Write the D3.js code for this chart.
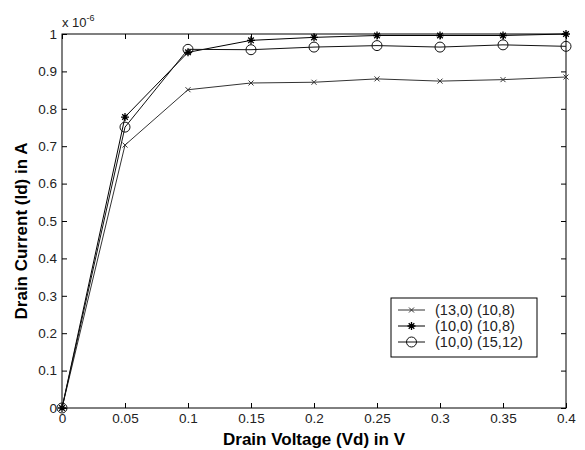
<!DOCTYPE html>
<html>
<head>
<meta charset="utf-8">
<script src="https://cdn.jsdelivr.net/npm/d3@7"></script>
<style>
  body { margin: 0; background: #fff; }
  text { font-family: "Liberation Sans", Arial, sans-serif; }
</style>
</head>
<body>
<div id="chart"></div>
<script>
// drain voltage (V)
var vd = [0, 0.05, 0.1, 0.15, 0.2, 0.25, 0.3, 0.35, 0.4];
// drain current, in units of 1e-6 A
var id13_0_10_8 = [0, 0.703, 0.851, 0.869, 0.871, 0.880, 0.874, 0.878, 0.885];
var id10_0_10_8 = [0, 0.778, 0.951, 0.983, 0.991, 0.996, 0.996, 0.996, 1.0];
var id10_0_15_12 = [0, 0.751, 0.959, 0.958, 0.965, 0.969, 0.965, 0.971, 0.967];
var seriesNames = ["(13,0) (10,8)", "(10,0) (10,8)", "(10,0) (15,12)"];
var xTicks = [0, 0.05, 0.1, 0.15, 0.2, 0.25, 0.3, 0.35, 0.4];
var yTicks = [0, 0.1, 0.2, 0.3, 0.4, 0.5, 0.6, 0.7, 0.8, 0.9, 1];

var width = 585, height = 450;
var margin = {top: 34, right: 19, bottom: 42, left: 62};
var w = width - margin.left - margin.right,
    h = height - margin.top - margin.bottom;

var svg = d3.select("#chart").append("svg")
  .attr("width", width)
  .attr("height", height);

var graph = svg.append("g")
  .attr("transform", "translate(" + margin.left + "," + margin.top + ")");

var x = d3.scaleLinear().domain([0, 0.4]).range([0, w]);
var y = d3.scaleLinear().domain([0, 1]).range([h, 0]);

// box
graph.append("rect")
  .attr("width", w).attr("height", h)
  .attr("fill", "none").attr("stroke", "#000").attr("stroke-width", 1);

// axes with inward ticks
var fmt = function(d) { return String(d); };
graph.append("g")
  .attr("transform", "translate(0," + h + ")")
  .call(d3.axisBottom(x).tickValues(xTicks).tickFormat(fmt).tickSizeInner(-5).tickSizeOuter(0).tickPadding(5));
graph.append("g")
  .call(d3.axisLeft(y).tickValues(yTicks).tickFormat(fmt).tickSizeInner(-5).tickSizeOuter(0).tickPadding(5));
graph.append("g")
  .call(d3.axisTop(x).tickValues(xTicks).tickFormat("").tickSizeInner(-5).tickSizeOuter(0));
graph.append("g")
  .attr("transform", "translate(" + w + ",0)")
  .call(d3.axisRight(y).tickValues(yTicks).tickFormat("").tickSizeInner(-5).tickSizeOuter(0));

graph.selectAll(".domain").remove();
graph.selectAll(".tick line").attr("stroke", "#000");
graph.selectAll(".tick text").attr("font-size", 13.5).attr("fill", "#222");

// exponent label
var expo = graph.append("text")
  .attr("x", 0).attr("y", -7)
  .attr("font-size", 13).attr("fill", "#222");
expo.append("tspan").text("x 10");
expo.append("tspan").attr("dy", -6).attr("font-size", 9).text("-6");

// axis titles
svg.append("text")
  .attr("x", margin.left + w / 2).attr("y", 445)
  .attr("text-anchor", "middle")
  .attr("font-size", 17).attr("font-weight", "bold")
  .text("Drain Voltage (Vd) in V");
svg.append("text")
  .attr("transform", "translate(27," + (margin.top + h / 2 + 10) + ") rotate(-90)")
  .attr("text-anchor", "middle")
  .attr("font-size", 17).attr("font-weight", "bold")
  .text("Drain Current (Id) in A");

var line = d3.line()
  .x(function(d, i) { return x(vd[i]); })
  .y(function(d) { return y(d); });

var series = [
  {name: seriesNames[0], values: id13_0_10_8, marker: "x", color: "#333"},
  {name: seriesNames[1], values: id10_0_10_8, marker: "star", color: "#000"},
  {name: seriesNames[2], values: id10_0_15_12, marker: "circle", color: "#111"}
];

function drawMarker(g, type, cx, cy, color) {
  if (type === "x") {
    var s = 2.5;
    g.append("path")
      .attr("d", "M" + (cx - s) + "," + (cy - s) + "L" + (cx + s) + "," + (cy + s) +
                 "M" + (cx - s) + "," + (cy + s) + "L" + (cx + s) + "," + (cy - s))
      .attr("stroke", color).attr("stroke-width", 1).attr("fill", "none");
  } else if (type === "star") {
    var r = 4, d = 2.8;
    g.append("path")
      .attr("d", "M" + (cx - r) + "," + cy + "L" + (cx + r) + "," + cy +
                 "M" + cx + "," + (cy - r) + "L" + cx + "," + (cy + r) +
                 "M" + (cx - d) + "," + (cy - d) + "L" + (cx + d) + "," + (cy + d) +
                 "M" + (cx - d) + "," + (cy + d) + "L" + (cx + d) + "," + (cy - d))
      .attr("stroke", color).attr("stroke-width", 1.3).attr("fill", "none");
  } else {
    g.append("circle")
      .attr("cx", cx).attr("cy", cy).attr("r", 5)
      .attr("stroke", color).attr("stroke-width", 1).attr("fill", "none");
  }
}

series.forEach(function(s) {
  graph.append("path")
    .datum(s.values)
    .attr("fill", "none")
    .attr("stroke", s.color)
    .attr("stroke-width", 1)
    .attr("d", line);
  var mg = graph.append("g");
  s.values.forEach(function(v, i) {
    drawMarker(mg, s.marker, x(vd[i]), y(v), s.color);
  });
});

// legend
var legend = svg.append("g").attr("transform", "translate(391,298)");
legend.append("rect")
  .attr("width", 146).attr("height", 59)
  .attr("fill", "#fff").attr("stroke", "#000").attr("stroke-width", 1);
series.forEach(function(s, i) {
  var ly = 12 + i * 16;
  legend.append("line")
    .attr("x1", 7).attr("x2", 34).attr("y1", ly).attr("y2", ly)
    .attr("stroke", s.color).attr("stroke-width", 1);
  drawMarker(legend, s.marker, 20.5, ly, s.color);
  legend.append("text")
    .attr("x", 44).attr("y", ly + 5)
    .attr("font-size", 14.5).attr("fill", "#222")
    .text(s.name);
});
</script>
</body>
</html>
